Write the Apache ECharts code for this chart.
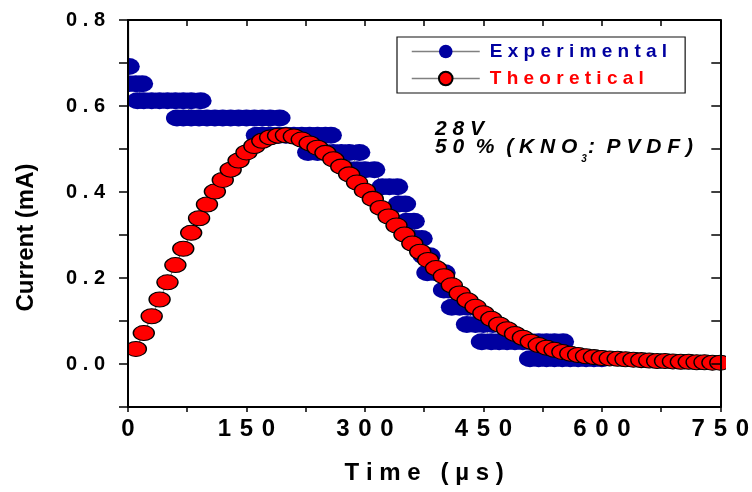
<!DOCTYPE html>
<html>
<head>
<meta charset="utf-8">
<script src="https://cdn.jsdelivr.net/npm/echarts@6.0.0/dist/echarts.min.js"></script>
<style>
html, body { margin: 0; padding: 0; background: #fff; }
#chart { width: 752px; height: 492px; }
</style>
</head>
<body>
<div id="chart"></div>
<script>
// theoretical curve, one point every 10 µs
var theoTime = [10, 20, 30, 40, 50, 60, 70, 80, 90, 100,
  110, 120, 130, 140, 150, 160, 170, 180, 190, 200,
  210, 220, 230, 240, 250, 260, 270, 280, 290, 300,
  310, 320, 330, 340, 350, 360, 370, 380, 390, 400,
  410, 420, 430, 440, 450, 460, 470, 480, 490, 500,
  510, 520, 530, 540, 550, 560, 570, 580, 590, 600,
  610, 620, 630, 640, 650, 660, 670, 680, 690, 700,
  710, 720, 730, 740, 750];
var theoCurrent = [0.035, 0.072, 0.111, 0.150, 0.190, 0.230, 0.268, 0.305, 0.339, 0.371,
  0.401, 0.428, 0.452, 0.473, 0.492, 0.507, 0.519, 0.527, 0.531, 0.532,
  0.529, 0.522, 0.513, 0.503, 0.491, 0.476, 0.459, 0.441, 0.422, 0.403,
  0.384, 0.363, 0.343, 0.322, 0.301, 0.280, 0.261, 0.242, 0.223, 0.204,
  0.183, 0.164, 0.148, 0.133, 0.118, 0.105, 0.092, 0.081, 0.070, 0.061,
  0.052, 0.044, 0.038, 0.033, 0.028, 0.024, 0.021, 0.018, 0.016, 0.014,
  0.013, 0.012, 0.011, 0.010, 0.009, 0.008, 0.007, 0.007, 0.006, 0.005,
  0.005, 0.004, 0.004, 0.003, 0.003];

// experimental trace (quantised scope readings), listed level by level
var expTime = [0.5, 1,
  0, 10, 18,
  12, 20, 30, 40, 50, 60, 70, 80, 92,
  62, 70, 80, 90, 100, 110, 120, 130, 140, 150, 160, 170, 180, 192,
  163, 170, 180, 190, 200, 210, 220, 230, 240, 250, 257,
  228, 240, 250, 260, 270, 280, 293,
  280, 290, 300, 312,
  322, 331, 341,
  343, 351,
  353, 362,
  364, 372,
  374, 382,
  379, 390, 401,
  400, 406, 412,
  410, 420, 430, 438,
  429, 440, 450, 462,
  448, 460, 470, 480, 490, 500, 510, 520, 530, 540, 551,
  509, 520, 530, 540, 550, 560, 570, 580, 590, 600];
var expCurrent = [1.0, 0.692,
  0.652, 0.652, 0.652,
  0.612, 0.612, 0.612, 0.612, 0.612, 0.612, 0.612, 0.612, 0.612,
  0.572, 0.572, 0.572, 0.572, 0.572, 0.572, 0.572, 0.572, 0.572, 0.572, 0.572, 0.572, 0.572, 0.572,
  0.532, 0.532, 0.532, 0.532, 0.532, 0.532, 0.532, 0.532, 0.532, 0.532, 0.532,
  0.492, 0.492, 0.492, 0.492, 0.492, 0.492, 0.492,
  0.452, 0.452, 0.452, 0.452,
  0.412, 0.412, 0.412,
  0.372, 0.372,
  0.332, 0.332,
  0.292, 0.292,
  0.252, 0.252,
  0.212, 0.212, 0.212,
  0.172, 0.172, 0.172,
  0.132, 0.132, 0.132, 0.132,
  0.092, 0.092, 0.092, 0.092,
  0.052, 0.052, 0.052, 0.052, 0.052, 0.052, 0.052, 0.052, 0.052, 0.052, 0.052,
  0.012, 0.012, 0.012, 0.012, 0.012, 0.012, 0.012, 0.012, 0.012, 0.012];

var seriesNames = ['Experimental', 'Theoretical'];
var seriesColors = ['#0000A0', '#FF0000'];

var FONT = '"Liberation Sans", Arial, sans-serif';
var gridLeft = 128, gridRight = 27, gridTop = 20, gridBottom = 85;
var W = 752, H = 492;

function spaced(s, sep) { return String(s).split('').join(sep); }
function pairs(xs, ys) { return xs.map(function (x, i) { return [x, ys[i]]; }); }

var chart = echarts.init(document.getElementById('chart'), null, { renderer: 'canvas' });

var axisLine = { show: true, onZero: false, lineStyle: { color: '#000', width: 2 } };

var option = {
  animation: false,
  backgroundColor: '#fff',
  grid: { left: gridLeft, right: gridRight, top: gridTop, bottom: gridBottom },
  legend: {
    orient: 'vertical',
    left: 397, top: 37,
    padding: [5, 18, 5, 14],
    borderColor: '#111', borderWidth: 1.2,
    itemWidth: 68, itemHeight: 17, itemGap: 8,
    lineStyle: { color: '#808080', width: 1.5 },
    textStyle: { fontSize: 19, fontWeight: 'bold', fontFamily: FONT, padding: [0, 0, 0, 5] },
    formatter: function (name) { return spaced(name, ' '); },
    data: [
      { name: seriesNames[0], textStyle: { color: seriesColors[0] } },
      { name: seriesNames[1], textStyle: { color: seriesColors[1] } }
    ]
  },
  xAxis: [{
    type: 'value', min: 0, max: 750, interval: 75, position: 'bottom', z: 60,
    axisLine: axisLine,
    axisTick: { show: true, inside: false, length: 5, lineStyle: { color: '#000', width: 1.5 } },
    axisLabel: {
      margin: 10, fontSize: 24, fontWeight: 'bold', color: '#000', fontFamily: FONT,
      formatter: function (v) { return v % 150 === 0 ? spaced(v, ' \u200A') : ''; }
    },
    splitLine: { show: false },
    name: spaced('Time', ' ') + '   ' + spaced('(µs)', ' '),
    nameLocation: 'middle', nameGap: 54,
    nameTextStyle: { fontSize: 24, fontWeight: 'bold', color: '#000', fontFamily: FONT }
  }, {
    type: 'value', min: 0, max: 750, interval: 75, position: 'top', z: 60,
    axisLine: axisLine,
    axisTick: { show: true, inside: true, length: 6, lineStyle: { color: '#000', width: 1.5 } },
    axisLabel: { show: false },
    splitLine: { show: false }
  }],
  yAxis: [{
    type: 'value', min: -0.1, max: 0.8, interval: 0.1, position: 'left', z: 60,
    axisLine: axisLine,
    axisTick: { show: true, inside: false, length: 9, lineStyle: { color: '#000', width: 1.5 } },
    axisLabel: {
      margin: 23, fontSize: 20, fontWeight: 'bold', color: '#000', fontFamily: FONT,
      formatter: function (v) {
        var k = Math.round(v * 10);
        return (k >= 0 && k % 2 === 0) ? spaced((k / 10).toFixed(1), ' ') : '';
      }
    },
    splitLine: { show: false },
    name: 'Current (mA)', nameLocation: 'middle', nameGap: 90,
    nameTextStyle: { fontSize: 24, fontWeight: 'bold', color: '#000', fontFamily: FONT, padding: [0, 48, 0, 0] }
  }, {
    type: 'value', min: -0.1, max: 0.8, interval: 0.1, position: 'right', z: 60,
    axisLine: axisLine,
    axisTick: { show: true, inside: true, length: 9, lineStyle: { color: '#000', width: 1.5 } },
    axisLabel: { show: false },
    splitLine: { show: false }
  }],
  series: [{
    name: seriesNames[0], type: 'line', xAxisIndex: 0, yAxisIndex: 0,
    data: pairs(expTime, expCurrent),
    symbol: 'circle', symbolSize: [22, 17], showAllSymbol: true, clip: true, z: 2,
    itemStyle: { color: seriesColors[0], borderWidth: 0 },
    lineStyle: { color: '#808080', width: 1 },
    emphasis: { disabled: true }
  }, {
    name: seriesNames[1], type: 'line', xAxisIndex: 0, yAxisIndex: 0,
    data: pairs(theoTime, theoCurrent),
    symbol: 'circle', symbolSize: [21, 15], showAllSymbol: true, clip: true, z: 3,
    itemStyle: { color: seriesColors[1], borderColor: '#000', borderWidth: 1.2 },
    lineStyle: { color: '#808080', width: 1 },
    emphasis: { disabled: true }
  }],
  graphic: [
    // white strips outside the frame so markers are cut at the axes
    { type: 'rect', z: 50, silent: true,
      shape: { x: gridLeft - 30, y: gridTop - 1, width: 29, height: H - gridTop - gridBottom + 2 },
      style: { fill: '#fff' } },
    { type: 'rect', z: 50, silent: true,
      shape: { x: W - gridRight + 1, y: gridTop - 1, width: 30, height: H - gridTop - gridBottom + 2 },
      style: { fill: '#fff' } },
    { type: 'text', left: 435, top: 119, z: 70,
      style: {
        text: '{a|2 8 V}',
        rich: { a: { fontSize: 21, fontWeight: 'bold', fontStyle: 'italic', fontFamily: FONT, fill: '#000', lineHeight: 24, verticalAlign: 'top' } }
      } },
    { type: 'text', left: 435, top: 137, z: 70,
      style: {
        text: '{a|5 0  %  ( K N O}{s|3}{a|:  P V D F )}',
        rich: {
          a: { fontSize: 21, fontWeight: 'bold', fontStyle: 'italic', fontFamily: FONT, fill: '#000', lineHeight: 24, verticalAlign: 'top' },
          s: { fontSize: 10, fontWeight: 'bold', fontStyle: 'italic', fontFamily: FONT, fill: '#000', lineHeight: 10, verticalAlign: 'top', padding: [17, 1, 0, 4] }
        }
      } }
  ]
};

chart.setOption(option);
</script>
</body>
</html>
